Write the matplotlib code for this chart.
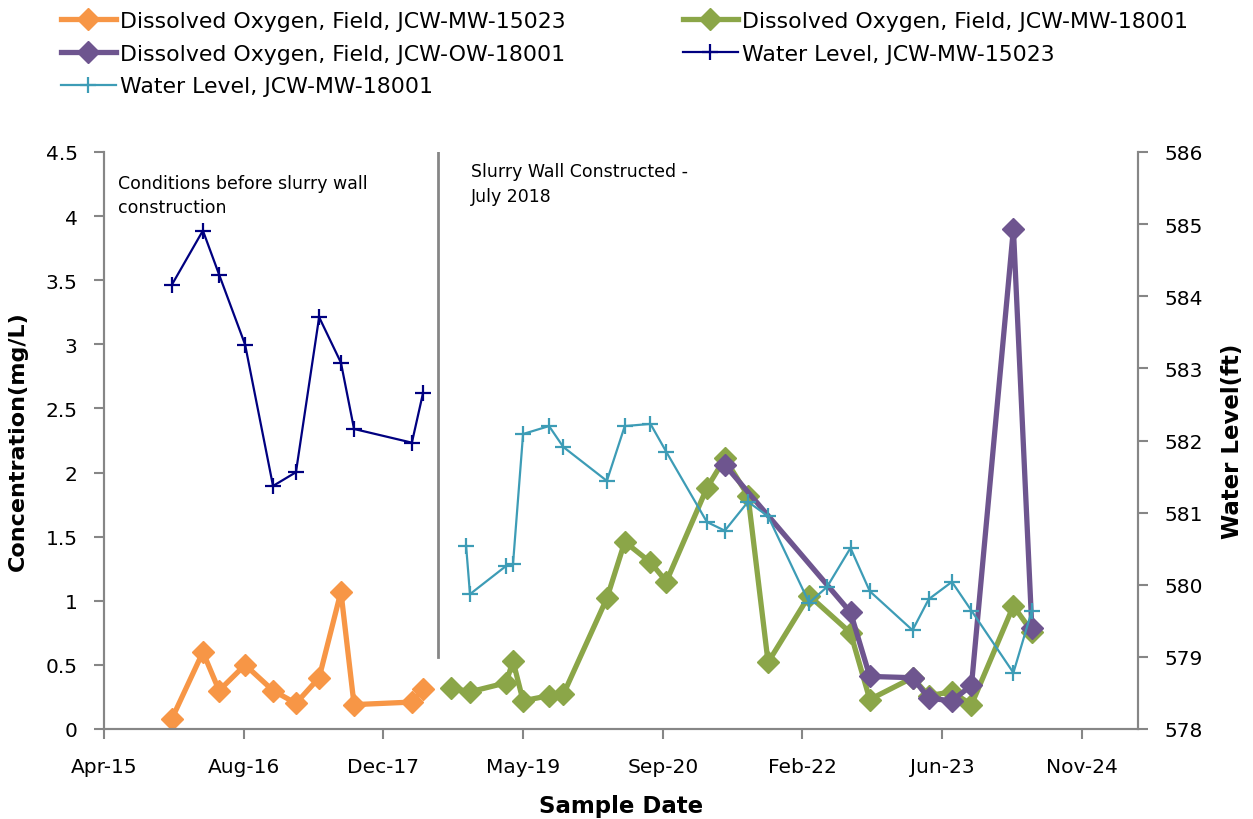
import numpy as np
import matplotlib.pyplot as plt
import matplotlib.dates as mdates

plt.rcParams['font.family'] = ['DejaVu Sans']

# Well JCW-MW-15023 (before slurry wall)
dates_15023 = np.array(['2015-12-04', '2016-03-24', '2016-05-21', '2016-08-22', '2016-11-30',
                        '2017-02-20', '2017-05-14', '2017-07-31', '2017-09-16', '2018-04-11',
                        '2018-05-21'], dtype='datetime64[D]')
do_15023 = [0.08, 0.60, 0.30, 0.50, 0.30, 0.20, 0.40, 1.07, 0.19, 0.21, 0.31]
wl_15023 = [584.16, 584.91, 584.30, 583.33, 581.37, 581.56, 583.71, 583.08, 582.16, 581.97, 582.66]

# Well JCW-MW-18001 dissolved oxygen
dates_do_18001 = np.array(['2018-08-29', '2018-11-05', '2019-03-14', '2019-04-08', '2019-05-14',
                           '2019-08-15', '2019-10-05', '2020-03-09', '2020-05-12', '2020-08-12',
                           '2020-10-08', '2021-03-02', '2021-05-05', '2021-07-27', '2021-10-07',
                           '2022-03-03', '2022-07-29', '2022-10-06', '2023-03-08', '2023-05-05',
                           '2023-07-27', '2023-10-05', '2024-03-03', '2024-05-08'], dtype='datetime64[D]')
do_18001 = [0.32, 0.29, 0.36, 0.53, 0.22, 0.26, 0.27, 1.02, 1.46, 1.30, 1.15, 1.88,
            2.11, 1.82, 0.52, 1.04, 0.75, 0.23, 0.40, 0.26, 0.29, 0.19, 0.96, 0.76]

# Well JCW-MW-18001 water level
dates_wl_18001 = np.array(['2018-10-22', '2018-11-05', '2019-03-14', '2019-04-08', '2019-05-14',
                           '2019-08-15', '2019-10-05', '2020-03-09', '2020-05-12', '2020-08-12',
                           '2020-10-08', '2021-03-02', '2021-05-05', '2021-07-27', '2021-10-07',
                           '2022-03-03', '2022-05-06', '2022-07-29', '2022-10-06', '2023-03-08',
                           '2023-05-05', '2023-07-27', '2023-10-05', '2024-03-03', '2024-05-08'],
                          dtype='datetime64[D]')
wl_18001 = [580.54, 579.87, 580.26, 580.29, 582.09, 582.20, 581.91, 581.44, 582.20, 582.23,
            581.84, 580.87, 580.75, 581.15, 580.95, 579.75, 579.97, 580.51, 579.91, 579.37,
            579.80, 580.04, 579.64, 578.78, 579.64]

# Well JCW-OW-18001 dissolved oxygen
dates_ow_18001 = np.array(['2021-05-05', '2022-07-29', '2022-10-06', '2023-03-08', '2023-05-05',
                           '2023-07-27', '2023-10-05', '2024-03-03', '2024-05-08'], dtype='datetime64[D]')
do_ow_18001 = [2.06, 0.91, 0.41, 0.40, 0.24, 0.22, 0.34, 3.90, 0.79]

axis_start = np.datetime64('2015-04-05')
axis_end = np.datetime64('2025-05-23')
wall_date = np.datetime64('2018-07-13')

W, H = 1253, 820
fig = plt.figure(figsize=(W / 100, H / 100), dpi=100)
ax = fig.add_axes([104 / W, 90 / H, 1034 / W, 577 / H])
ax2 = ax.twinx()

gray = '#868686'
l1, = ax.plot(dates_15023, do_15023, color='#F79646', lw=3.8, marker='D', ms=11.5,
              label='Dissolved Oxygen, Field, JCW-MW-15023')
l2, = ax.plot(dates_do_18001, do_18001, color='#8BA648', lw=3.8, marker='D', ms=11.5,
              label='Dissolved Oxygen, Field, JCW-MW-18001')
l3, = ax.plot(dates_ow_18001, do_ow_18001, color='#6E558F', lw=3.8, marker='D', ms=11.5,
              label='Dissolved Oxygen, Field, JCW-OW-18001')
l4, = ax2.plot(dates_15023, wl_15023, color='#000080', lw=1.6, marker='+', ms=11, mew=1.6,
               label='Water Level, JCW-MW-15023')
l5, = ax2.plot(dates_wl_18001, wl_18001, color='#3D9CB6', lw=1.6, marker='+', ms=11, mew=1.6,
               label='Water Level, JCW-MW-18001')

# slurry wall divider
ax.axvline(wall_date, ymin=0.56 / 4.5, ymax=1, color=gray, lw=2)
ax.text(np.datetime64('2015-05-25'), 4.33, 'Conditions before slurry wall\nconstruction',
        fontsize=12.5, va='top', ha='left', linespacing=1.45)
ax.text(np.datetime64('2018-11-08'), 4.42, 'Slurry Wall Constructed -\nJuly 2018',
        fontsize=12.5, va='top', ha='left', linespacing=1.45)

ax.set_xlim(axis_start, axis_end)
ax.set_ylim(0, 4.5)
ax2.set_ylim(578, 586)
ax.set_yticks(np.arange(0, 4.51, 0.5))
ax.set_yticklabels(['0', '0.5', '1', '1.5', '2', '2.5', '3', '3.5', '4', '4.5'])
ax2.set_yticks(np.arange(578, 587, 1))
ax.set_xticks(axis_start + np.arange(8) * np.timedelta64(500, 'D'))
ax.xaxis.set_major_formatter(mdates.DateFormatter('%b-%y'))

for a in (ax, ax2):
    a.spines['top'].set_visible(False)
    for s in ('left', 'right', 'bottom'):
        a.spines[s].set_color(gray)
        a.spines[s].set_linewidth(1.5)
    a.tick_params(axis='both', colors=gray, labelcolor='black', labelsize=14.5,
                  length=7, width=1.5, direction='out')
ax.tick_params(axis='y', pad=12)
ax.tick_params(axis='x', pad=13)
ax2.tick_params(axis='y', pad=12)

ax.set_ylabel('Concentration(mg/L)', fontsize=16, fontweight='bold', labelpad=13)
ax2.set_ylabel('Water Level(ft)', fontsize=16.5, fontweight='bold', labelpad=13)
ax.set_xlabel('Sample Date', fontsize=16.5, fontweight='bold', labelpad=13)

leg_kw = dict(loc='upper left', frameon=False, fontsize=15.8, handlelength=2.5,
              labelspacing=0.58, handletextpad=0.2, borderpad=0, borderaxespad=0)
fig.legend(handles=[l1, l3, l5], bbox_to_anchor=(61 / W, 1 - 12 / H), **leg_kw)
fig.legend(handles=[l2, l4], bbox_to_anchor=(683 / W, 1 - 12 / H), **leg_kw)

plt.savefig('out.png', dpi=100)
